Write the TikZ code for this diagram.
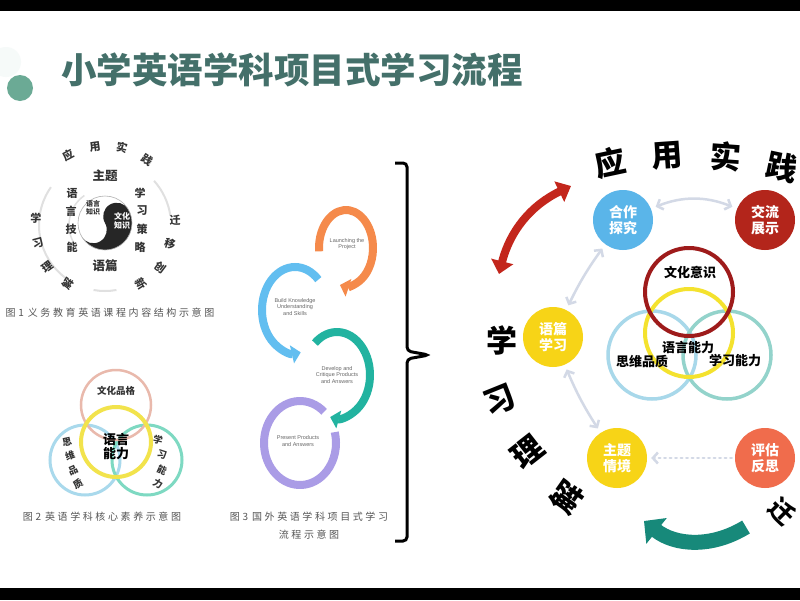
\documentclass[tikz,border=0pt]{standalone}
\usepackage{fontspec}
\newfontfamily\cjk{Noto Sans CJK SC}
\newfontfamily\capfont{Noto Sans CJK SC}[LetterSpace=26]
\newfontfamily\engfont{Liberation Sans}
\usetikzlibrary{arrows.meta, positioning}

\definecolor{titlegreen}{HTML}{44706A}
\definecolor{dotgreen}{HTML}{6BAA95}
\definecolor{figgrey}{HTML}{333333}
\definecolor{capgrey}{HTML}{555555}
\definecolor{ringgrey}{HTML}{E0E0E0}
\definecolor{vpink}{HTML}{E9B9AC}
\definecolor{vyellow}{HTML}{F2E34C}
\definecolor{vblue}{HTML}{A9D9EC}
\definecolor{vgreen}{HTML}{7ED9C2}
\definecolor{pjorange}{HTML}{F58A4B}
\definecolor{pjblue}{HTML}{62BEF0}
\definecolor{pjteal}{HTML}{22B3A0}
\definecolor{pjpurple}{HTML}{AA9CE6}
\definecolor{cblue}{HTML}{5AB5E9}
\definecolor{cred}{HTML}{B3251B}
\definecolor{cyellow}{HTML}{F7D417}
\definecolor{corange}{HTML}{F06C4C}
\definecolor{arrred}{HTML}{C3261C}
\definecolor{arrteal}{HTML}{17897A}
\definecolor{linkgrey}{HTML}{D3D9E6}
\definecolor{ringred}{HTML}{9E1B1B}
\definecolor{ringyellow}{HTML}{F4E22E}
\definecolor{ringblue}{HTML}{A8D8EA}
\definecolor{ringteal}{HTML}{93D3CB}

\begin{document}
\begin{tikzpicture}[
		x=1pt, y=-1pt,
		bigchar/.style={font=\cjk\bfseries\fontsize{31}{31}\selectfont, text=black, inner sep=0pt},
		ringchar/.style={font=\cjk\bfseries\fontsize{11}{11}\selectfont, text=figgrey, inner sep=0pt},
		vchar/.style={font=\cjk\bfseries\fontsize{9.5}{9.5}\selectfont, text=figgrey, inner sep=0pt},
		caption/.style={font=\capfont\fontsize{10}{18}\selectfont, text=capgrey, align=center, inner sep=0pt},
		engtext/.style={font=\engfont\fontsize{5.5}{6.5}\selectfont, text=black!60, align=center, inner sep=0pt},
		stage/.style={circle, minimum size=60pt, inner sep=0pt, text=white, align=center, font=\cjk\bfseries\fontsize{14}{16}\selectfont},
		vlabel/.style={font=\cjk\bfseries\fontsize{13}{13}\selectfont, text=black, inner sep=0pt},
		link/.style={linkgrey, line width=2.5pt, shorten <=5pt, shorten >=5pt, {Straight Barb[length=5pt, width=11pt]}-{Straight Barb[length=5pt, width=11pt]}}
	]
	\useasboundingbox (0,0) rectangle (800,600);
	\fill[white] (0,0) rectangle (800,600);
	\fill[black] (0,0) rectangle (800,11);
	\fill[black] (0,588) rectangle (800,600);

	% title
	\fill[dotgreen!6] (6,62) circle (15);
	\fill[dotgreen] (20,88) circle (13);
	\node[anchor=west, inner sep=0pt, font=\cjk\bfseries\fontsize{35.5}{36}\selectfont, text=titlegreen] (title) at (61,70) {小学英语学科项目式学习流程};

	% figure 1
	\draw[ringgrey, line width=2pt] (105,225) ++(215:66) arc[start angle=215, end angle=125, radius=66];
	\draw[ringgrey, line width=2pt] (105,225) ++(318:66) arc[start angle=318, end angle=352, radius=66];
	\draw[ringgrey, line width=2pt] (105,225) ++(80:66) arc[start angle=80, end angle=100, radius=66];
	\draw[ringgrey, line width=1.5pt] (105,225) ++(235:36) arc[start angle=235, end angle=150, radius=36];
	\fill[white] (105,223) circle (27);
	\fill[black!85] ([shift={(-30:27)}]105,223) arc[start angle=-30, end angle=150, radius=27]
		arc[start angle=-210, end angle=-390, radius=13.5]
		arc[start angle=-210, end angle=-30, radius=13.5] -- cycle;
	\draw[black!30, line width=0.6pt] (105,223) circle (27);
	\node[font=\cjk\bfseries\fontsize{7}{8}\selectfont, text=figgrey, align=center, inner sep=0pt] (yyl) at (93,208) {语言\\知识};
	\node[font=\cjk\bfseries\fontsize{8}{9}\selectfont, text=white, align=center, inner sep=0pt] (yyc) at (122,221) {文化\\知识};

	\node[ringchar, rotate=28] (fa1) at (68,155) {应};
	\node[ringchar, rotate=8] (fa2) at (95,147) {用};
	\node[ringchar, rotate=-13] (fa3) at (122,148) {实};
	\node[ringchar, rotate=-33] (fa4) at (147,160) {践};
	\node[ringchar, font=\cjk\bfseries\fontsize{12.5}{12.5}\selectfont] (ftopic) at (105,176) {主题};
	\node[ringchar, font=\cjk\bfseries\fontsize{12.5}{12.5}\selectfont] (ftext) at (105,266) {语篇};
	\node[ringchar] (fl1) at (72,193) {语};
	\node[ringchar] (fl2) at (71,211) {言};
	\node[ringchar] (fl3) at (71,229) {技};
	\node[ringchar] (fl4) at (72,247) {能};
	\node[ringchar] (fr1) at (140,193) {学};
	\node[ringchar] (fr2) at (142,211) {习};
	\node[ringchar] (fr3) at (142,229) {策};
	\node[ringchar] (fr4) at (140,247) {略};
	\node[ringchar] (fb1) at (36,218) {学};
	\node[ringchar, rotate=15] (fb2) at (38,243) {习};
	\node[ringchar, rotate=36] (fb3) at (48,267) {理};
	\node[ringchar, rotate=57] (fb4) at (68,284) {解};
	\node[ringchar] (fc1) at (175,220) {迁};
	\node[ringchar, rotate=-15] (fc2) at (170,244) {移};
	\node[ringchar, rotate=-37] (fc3) at (160,267) {创};
	\node[ringchar, rotate=-57] (fc4) at (141,284) {新};
	\node[caption] (cap1) at (110,313) {图1\hspace{4pt}义务教育英语课程内容结构示意图};

	% figure 2
	\draw[vblue, line width=3pt] (85,460) circle (35);
	\draw[vgreen, line width=3pt] (147,460) circle (35);
	\draw[vpink, line width=2.5pt] (116,405) circle (35);
	\draw[vyellow, line width=4pt] (116,442) circle (35);
	\node[vchar] (culture) at (116,391) {文化品格};
	\node[vlabel, align=center, font=\cjk\bfseries\fontsize{13}{14}\selectfont] (lang) at (116,447) {语言\\能力};
	\node[vchar, rotate=12] (th1) at (67,442) {思};
	\node[vchar, rotate=18] (th2) at (70,456) {维};
	\node[vchar, rotate=24] (th3) at (73,470) {品};
	\node[vchar, rotate=30] (th4) at (78,484) {质};
	\node[vchar, rotate=-12] (le1) at (158,440) {学};
	\node[vchar, rotate=-18] (le2) at (162,455) {习};
	\node[vchar, rotate=-24] (le3) at (162,470) {能};
	\node[vchar, rotate=-30] (le4) at (158,484) {力};
	\node[caption] (cap2) at (102,517) {图2\hspace{4pt}英语学科核心素养示意图};

	% figure 3
	\draw[pjpurple, line width=8pt] ([shift={(312:36 and 42)}]300,443) arc[start angle=312, end angle=-15, x radius=36, y radius=42];
	\draw[pjteal, line width=8pt, -{Triangle[length=9pt, width=18pt]}] ([shift={(228:33 and 43)}]337,375) arc[start angle=228, end angle=462, x radius=33, y radius=43];
	\draw[pjblue, line width=8pt, -{Triangle[length=9pt, width=18pt]}] ([shift={(315:33 and 43)}]295,310) arc[start angle=315, end angle=80, x radius=33, y radius=43];
	\draw[pjorange, line width=8pt, -{Triangle[length=9pt, width=18pt]}] ([shift={(175:27 and 38)}]346,248) arc[start angle=175, end angle=463, x radius=27, y radius=38];
	\node[engtext] (launch) at (347,244) {Launching the\\Project};
	\node[engtext] (build) at (295,307) {Build Knowledge\\Understanding\\and Skills};
	\node[engtext] (develop) at (337,375) {Develop and\\Critique Products\\and Answers};
	\node[engtext] (present) at (298,441) {Present Products\\and Answers};
	\node[caption] (cap3) at (309,526) {图3\hspace{4pt}国外英语学科项目式学习\\流程示意图};

	% brace
	\draw[black, line width=3pt, rounded corners=4pt] (395,163) -| (407,351) -- (429,355) -- (407,359) |- (395,541);

	% right diagram
	\draw[ringblue, line width=3.5pt] (652,355) circle (44);
	\draw[ringteal, line width=3.5pt] (727,355) circle (44);
	\draw[ringyellow, line width=4pt] (689,333) circle (44);
	\draw[ringred, line width=4pt] (689,292) circle (44);
	\node[vlabel] (cult) at (690,272) {文化意识};
	\node[vlabel] (langab) at (688,348) {语言能力};
	\node[vlabel] (think) at (642,361) {思维品质};
	\node[vlabel] (learn) at (735,361) {学习能力};

	\node[stage, fill=cblue] (hz) at (623,220) {合作\\探究};
	\node[stage, fill=cred] (jl) at (765,220) {交流\\展示};
	\node[stage, fill=cyellow] (yp) at (553,337) {语篇\\学习};
	\node[stage, fill=cyellow] (zt) at (617,458) {主题\\情境};
	\node[stage, fill=corange] (pg) at (765,458) {评估\\反思};

	\draw[link] (hz) to[bend left=22] (jl);
	\draw[link] (hz) to[bend right=5] (yp);
	\draw[link] (yp) to[bend right=5] (zt);
	\draw[linkgrey, line width=2.5pt, dash pattern=on 1.5pt off 4pt, line cap=round, shorten <=3pt, shorten >=4pt, -{Straight Barb[length=5pt, width=11pt]}] (pg) -- (zt);

	\coordinate (ra) at (499,274);
	\coordinate (rb) at (571,186);
	\draw[arrred, line width=8pt, {Triangle[length=13pt, width=22pt]}-{Triangle[length=13pt, width=22pt]}] (ra) to[bend left=25] (rb);
	\coordinate (ta) at (746,527);
	\coordinate (tb) at (644,521);
	\draw[arrteal, line width=15pt, -{Triangle[length=16pt, width=32pt]}] (ta) to[bend left=35] (tb);

	\node[bigchar, rotate=12] (ra1) at (610,163) {应};
	\node[bigchar, rotate=4] (ra2) at (667,156) {用};
	\node[bigchar, rotate=-4] (ra3) at (726,157) {实};
	\node[bigchar, rotate=-12] (ra4) at (782,167) {践};
	\node[bigchar] (rl1) at (502,340) {学};
	\node[bigchar, rotate=22] (rl2) at (500,400) {习};
	\node[bigchar, rotate=38] (rl3) at (528,452) {理};
	\node[bigchar, rotate=55] (rl4) at (567,497) {解};
	\node[bigchar, rotate=-45, font=\cjk\bfseries\fontsize{25}{25}\selectfont] (rr1) at (782,512) {迁};
\end{tikzpicture}
\end{document}
